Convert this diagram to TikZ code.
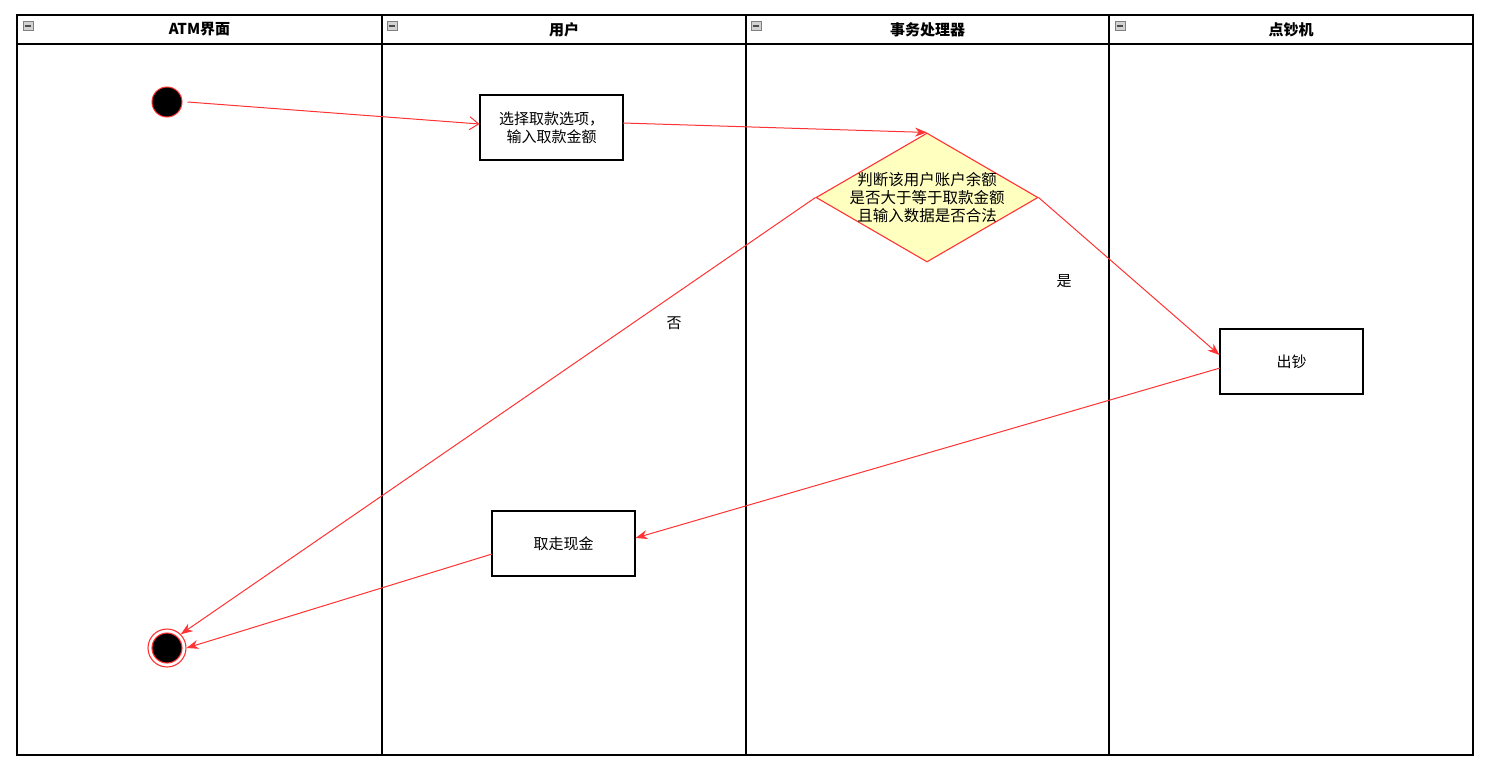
\documentclass[tikz,border=0pt]{standalone}
\usepackage{fontspec}
\setmainfont{Noto Sans CJK SC}
\usetikzlibrary{arrows.meta,shapes.geometric}
\definecolor{lred}{HTML}{FF3333}
\definecolor{dfill}{HTML}{FFFFC0}
\begin{document}
\begin{tikzpicture}[x=1pt,y=-1pt,
  lane/.style={draw=black,line width=1.4pt},
  hdr/.style={font=\fontsize{15}{18}\selectfont\bfseries},
  act/.style={draw=black,line width=1.1pt,fill=white,minimum width=143pt,minimum height=65pt,inner sep=0pt,align=center,font=\fontsize{15}{18}\selectfont},
  flow/.style={draw=lred,line width=1pt,-{Stealth[length=12pt,width=9pt]}},
  lbl/.style={font=\fontsize{15}{18}\selectfont},
  icon/.style={draw=gray,fill=gray!35,line width=0.7pt}
]
\useasboundingbox (0,0) rectangle (1492,776);
\fill[white] (0,0) rectangle (1492,776);
% frame and lanes
\draw[lane] (17,15) rectangle (1473,755);
\draw[lane] (17,44) -- (1473,44);
\foreach \x in {382,746,1109} \draw[lane] (\x,15) -- (\x,755);
% headers
\node[hdr] (h1) at (199.5,29.5) {ATM界面};
\node[hdr] (h2) at (564,29.5) {用户};
\node[hdr] (h3) at (927.5,29.5) {事务处理器};
\node[hdr] (h4) at (1291,29.5) {点钞机};
\foreach \x in {23,387,751,1115} {
  \draw[icon] (\x,21.5) rectangle ++(10,9);
  \draw[black!70,line width=1.3pt] (\x+2,26) -- ++(6,0);
}
% nodes
\node[circle,draw=lred,fill=black,line width=1pt,minimum size=30pt,inner sep=0pt] (start) at (167,102) {};
\node[act] (choose) at (551.5,127.5) {选择取款选项，\\ 输入取款金额};
\node[diamond,draw=lred,fill=dfill,line width=1.1pt,minimum width=222pt,minimum height=129pt,inner sep=0pt,aspect=1.72] (judge) at (927,197.5) {};
\node[align=center,font=\fontsize{15.5}{18}\selectfont] (jt) at (927,198) {判断该用户账户余额\\是否大于等于取款金额\\且输入数据是否合法};
\node[act] (dispense) at (1291.5,361.5) {出钞};
\node[act] (take) at (563.5,543.5) {取走现金};
\node[circle,draw=lred,fill=white,line width=1.1pt,minimum size=38pt,inner sep=0pt] (endo) at (167,648) {};
\node[circle,draw=lred,fill=black,line width=1.1pt,minimum size=30pt,inner sep=0pt] (end) at (167,648) {};
% labels
\node[lbl] (no) at (674,323) {否};
\node[lbl] (yes) at (1064,281) {是};
% connectors
\draw[draw=lred,line width=1pt,-{Straight Barb[length=9pt,width=13pt]}] (start.east) ++(5,0) -- (choose.west |- 0,124);
\coordinate (c1) at (623,123);
\draw[flow] (c1) -- (judge.north);
\draw[flow] (judge.west) -- (endo.north east);
\draw[flow] (judge.east) -- (dispense.west |- 0,355);
\coordinate (d1) at (1220,368);
\draw[flow] (d1) -- (take.east |- 0,538);
\coordinate (t1) at (492,554);
\draw[flow] (t1) -- (endo.east);
\end{tikzpicture}
\end{document}
